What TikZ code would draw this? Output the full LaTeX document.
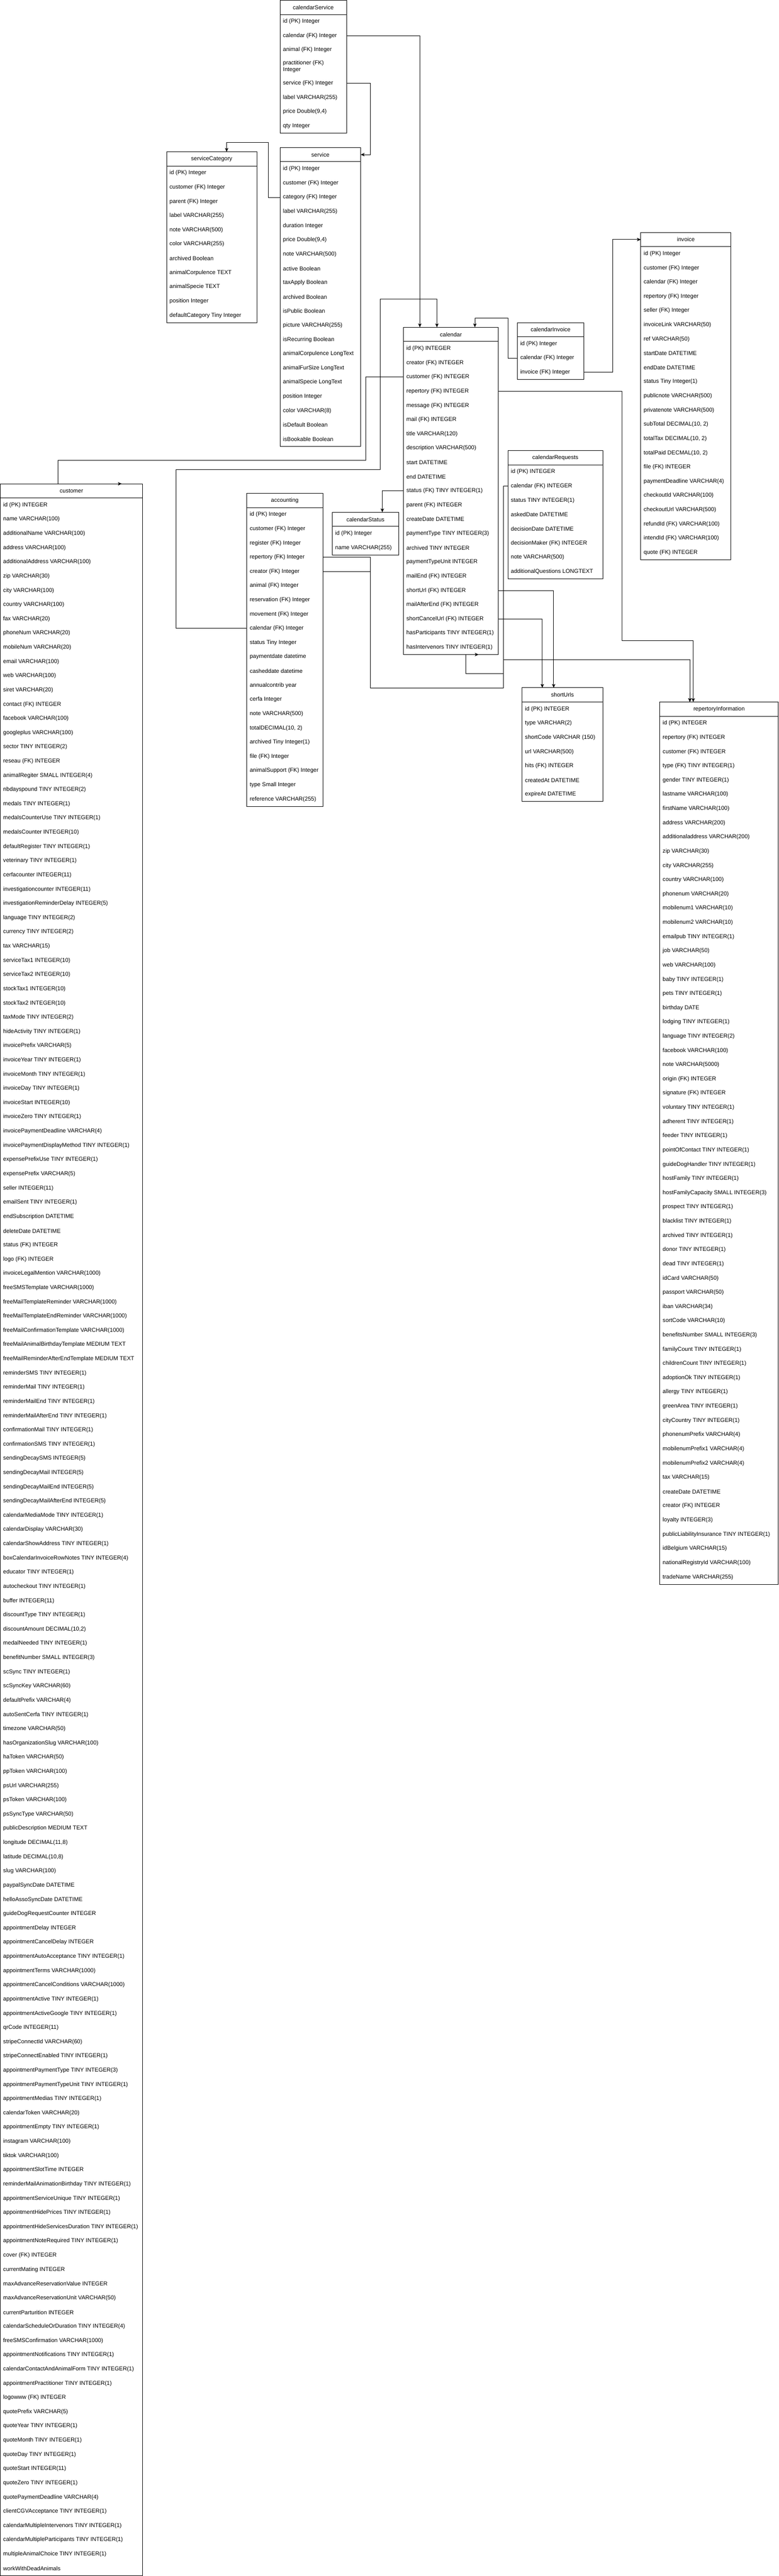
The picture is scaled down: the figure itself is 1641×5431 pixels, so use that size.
\documentclass[tikz,border=0pt]{standalone}
\usepackage{fontspec}
\setmainfont{Liberation Sans}
\usetikzlibrary{arrows.meta}

% Table frame: #1 name, #2 x, #3 y, #4 width, #5 height (px), #6 title
\newcommand{\erTable}[6]{%
  \node[erBox, minimum width=#4*0.75pt, minimum height=#5*0.75pt] (#1) at (#2,#3) {};
  \node[erHead, minimum width=#4*0.75pt] (#1-t) at (#2,#3) {#6};
  \draw[line width=0.75pt] (#1-t.south west) -- (#1-t.south east);
}
% Table rows: #1 name, #2 x, #3 top of first row, #4 first index, #5 rows
\newcommand{\erRows}[5]{%
  \foreach \txt [count=\i from #4] in {#5} {
    \node[erRow] (#1-\i) at ({#2+6},{#3+30*(\i-#4)+15}) {\txt};
  }
}

\tikzset{
  erBox/.style={draw, line width=0.75pt, anchor=north west, inner sep=0, outer sep=0},
  erHead/.style={anchor=north west, inner sep=0, outer sep=0, minimum height=22.5pt},
  erRow/.style={anchor=west, inner sep=0},
  fk/.style={line width=0.75pt, -{Stealth[length=6pt,width=5.25pt,inset=1.5pt]}},
}

\begin{document}
\begin{tikzpicture}[x=0.75pt, y=-0.75pt, font=\fontsize{9pt}{10.5pt}\selectfont]
\fill[white] (0,0) rectangle (1641,5431);

% calendarService
\erTable{csv}{590}{0.5}{140}{280}{calendarService}
\erRows{csv}{590}{30.5}{1}{id (PK) Integer, calendar (FK) Integer, animal (FK) Integer}
\node[erRow, align=left] (csv-4) at (596,140.5) {practitioner (FK)\\Integer};
\erRows{csv}{590}{160.5}{5}{service (FK) Integer, label VARCHAR(255), {price Double(9,4)}, qty Integer}

% serviceCategory
\erTable{scat}{351}{320}{190}{360}{serviceCategory}
\erRows{scat}{351}{350}{1}{id (PK) Integer, customer (FK) Integer, parent (FK) Integer,
  label VARCHAR(255), note VARCHAR(500), color VARCHAR(255), archived Boolean,
  animalCorpulence TEXT, animalSpecie TEXT, position Integer, defaultCategory Tiny Integer}

% service
\erTable{svc}{590}{311}{170}{630}{service}
\erRows{svc}{590}{341}{1}{id (PK) Integer, customer (FK) Integer, category (FK) Integer,
  label VARCHAR(255), duration Integer, {price Double(9,4)}, note VARCHAR(500),
  active Boolean, taxApply Boolean, archived Boolean, isPublic Boolean,
  picture VARCHAR(255), isRecurring Boolean, animalCorpulence LongText,
  animalFurSize LongText, animalSpecie LongText, position Integer,
  color VARCHAR(8), isDefault Boolean, isBookable Boolean}

% calendar
\erTable{cal}{850}{690}{200}{690}{calendar}
\erRows{cal}{850}{720}{1}{id (PK) INTEGER, creator (FK) INTEGER, customer (FK) INTEGER,
  repertory (FK) INTEGER, message (FK) INTEGER, mail (FK) INTEGER, title VARCHAR(120),
  description VARCHAR(500), start DATETIME, end DATETIME, status (FK) TINY INTEGER(1),
  parent (FK) INTEGER, createDate DATETIME, paymentType TINY INTEGER(3),
  archived TINY INTEGER, paymentTypeUnit INTEGER, mailEnd (FK) INTEGER,
  shortUrl (FK) INTEGER, mailAfterEnd (FK) INTEGER, shortCancelUrl (FK) INTEGER,
  hasParticipants TINY INTEGER(1), hasIntervenors TINY INTEGER(1)}

% calendarInvoice
\erTable{cinv}{1090}{680}{140}{120}{calendarInvoice}
\erRows{cinv}{1090}{710}{1}{id (PK) Integer, calendar (FK) Integer, invoice (FK) Integer}

% invoice
\erTable{inv}{1350}{490}{190}{690}{invoice}
\erRows{inv}{1350}{520}{1}{id (PK) Integer, customer (FK) Integer, calendar (FK) Integer,
  repertory (FK) Integer, seller (FK) Integer, invoiceLink VARCHAR(50), ref VARCHAR(50),
  startDate DATETIME, endDate DATETIME, status Tiny Integer(1), publicnote VARCHAR(500),
  privatenote VARCHAR(500), {subTotal DECIMAL(10, 2)}, {totalTax DECIMAL(10, 2)},
  {totalPaid DECMAL(10, 2)}, file (FK) INTEGER, paymentDeadline VARCHAR(4),
  checkoutId VARCHAR(100), checkoutUrl VARCHAR(500), refundId (FK) VARCHAR(100),
  intendId (FK) VARCHAR(100), quote (FK) INTEGER}

% calendarRequests
\erTable{creq}{1070}{950}{200}{270}{calendarRequests}
\erRows{creq}{1070}{980}{1}{id (PK) INTEGER, calendar (FK) INTEGER, status TINY INTEGER(1),
  askedDate DATETIME, decisionDate DATETIME, decisionMaker (FK) INTEGER,
  note VARCHAR(500), additionalQuestions LONGTEXT}

% calendarStatus
\erTable{cstat}{700}{1080}{140}{90}{calendarStatus}
\erRows{cstat}{700}{1110}{1}{id (PK) Integer, name VARCHAR(255)}

% accounting
\erTable{acc}{520}{1040}{160}{660}{accounting}
\erRows{acc}{520}{1070}{1}{id (PK) Integer, customer (FK) Integer, register (FK) Integer,
  repertory (FK) Integer, creator (FK) Integer, animal (FK) Integer,
  reservation (FK) Integer, movement (FK) Integer, calendar (FK) Integer,
  status Tiny Integer, paymentdate datetime, casheddate datetime, annualcontrib year,
  cerfa Integer, note VARCHAR(500), {totalDECIMAL(10, 2)}, archived Tiny Integer(1),
  file (FK) Integer, animalSupport (FK) Integer, type Small Integer, reference VARCHAR(255)}

% shortUrls
\erTable{surl}{1100}{1450}{170}{240}{shortUrls}
\erRows{surl}{1100}{1480}{1}{id (PK) INTEGER, type VARCHAR(2), shortCode VARCHAR (150),
  url VARCHAR(500), hits (FK) INTEGER, createdAt DATETIME, expireAt DATETIME}

% customer
\erTable{cus}{0.5}{1020}{300}{4410}{customer}
\erRows{cus}{0.5}{1050}{1}{id (PK) INTEGER, name VARCHAR(100), additionalName VARCHAR(100),
  address VARCHAR(100), additionalAddress VARCHAR(100), zip VARCHAR(30), city VARCHAR(100),
  country VARCHAR(100), fax VARCHAR(20), phoneNum VARCHAR(20), mobileNum VARCHAR(20),
  email VARCHAR(100), web VARCHAR(100), siret VARCHAR(20), contact (FK) INTEGER,
  facebook VARCHAR(100), googleplus VARCHAR(100), sector TINY INTEGER(2),
  reseau (FK) INTEGER, animalRegiter SMALL INTEGER(4), nbdayspound TINY INTEGER(2),
  medals TINY INTEGER(1), medalsCounterUse TINY INTEGER(1), medalsCounter INTEGER(10),
  defaultRegister TINY INTEGER(1), veterinary TINY INTEGER(1), cerfacounter INTEGER(11),
  investigationcounter INTEGER(11), investigationReminderDelay INTEGER(5),
  language TINY INTEGER(2), currency TINY INTEGER(2), tax VARCHAR(15),
  serviceTax1 INTEGER(10), serviceTax2 INTEGER(10), stockTax1 INTEGER(10),
  stockTax2 INTEGER(10), taxMode TINY INTEGER(2), hideActivity TINY INTEGER(1),
  invoicePrefix VARCHAR(5), invoiceYear TINY INTEGER(1), invoiceMonth TINY INTEGER(1),
  invoiceDay TINY INTEGER(1), invoiceStart INTEGER(10), invoiceZero TINY INTEGER(1),
  invoicePaymentDeadline VARCHAR(4), invoicePaymentDisplayMethod TINY INTEGER(1),
  expensePrefixUse TINY INTEGER(1), expensePrefix VARCHAR(5), seller INTEGER(11),
  emailSent TINY INTEGER(1), endSubscription DATETIME, deleteDate DATETIME,
  status (FK) INTEGER, logo (FK) INTEGER, invoiceLegalMention VARCHAR(1000),
  freeSMSTemplate VARCHAR(1000), freeMailTemplateReminder VARCHAR(1000),
  freeMailTemplateEndReminder VARCHAR(1000), freeMailConfirmationTemplate VARCHAR(1000),
  freeMailAnimalBirthdayTemplate MEDIUM TEXT, freeMailReminderAfterEndTemplate MEDIUM TEXT,
  reminderSMS TINY INTEGER(1), reminderMail TINY INTEGER(1), reminderMailEnd TINY INTEGER(1),
  reminderMailAfterEnd TINY INTEGER(1), confirmationMail TINY INTEGER(1),
  confirmationSMS TINY INTEGER(1), sendingDecaySMS INTEGER(5), sendingDecayMail INTEGER(5),
  sendingDecayMailEnd INTEGER(5), sendingDecayMailAfterEnd INTEGER(5),
  calendarMediaMode TINY INTEGER(1), calendarDisplay VARCHAR(30),
  calendarShowAddress TINY INTEGER(1), boxCalendarInvoiceRowNotes TINY INTEGER(4),
  educator TINY INTEGER(1), autocheckout TINY INTEGER(1), buffer INTEGER(11),
  discountType TINY INTEGER(1), {discountAmount DECIMAL(10,2)}, medalNeeded TINY INTEGER(1),
  benefitNumber SMALL INTEGER(3), scSync TINY INTEGER(1), scSyncKey VARCHAR(60),
  defaultPrefix VARCHAR(4), autoSentCerfa TINY INTEGER(1), timezone VARCHAR(50),
  hasOrganizationSlug VARCHAR(100), haToken VARCHAR(50), ppToken VARCHAR(100),
  psUrl VARCHAR(255), psToken VARCHAR(100), psSyncType VARCHAR(50),
  publicDescription MEDIUM TEXT, {longitude DECIMAL(11,8)}, {latitude DECIMAL(10,8)},
  slug VARCHAR(100), paypalSyncDate DATETIME, helloAssoSyncDate DATETIME,
  guideDogRequestCounter INTEGER, appointmentDelay INTEGER, appointmentCancelDelay INTEGER,
  appointmentAutoAcceptance TINY INTEGER(1), appointmentTerms VARCHAR(1000),
  appointmentCancelConditions VARCHAR(1000), appointmentActive TINY INTEGER(1),
  appointmentActiveGoogle TINY INTEGER(1), qrCode INTEGER(11), stripeConnectId VARCHAR(60),
  stripeConnectEnabled TINY INTEGER(1), appointmentPaymentType TINY INTEGER(3),
  appointmentPaymentTypeUnit TINY INTEGER(1), appointmentMedias TINY INTEGER(1),
  calendarToken VARCHAR(20), appointmentEmpty TINY INTEGER(1), instagram VARCHAR(100),
  tiktok VARCHAR(100), appointmentSlotTime INTEGER,
  reminderMailAnimationBirthday TINY INTEGER(1), appointmentServiceUnique TINY INTEGER(1),
  appointmentHidePrices TINY INTEGER(1), appointmentHideServicesDuration TINY INTEGER(1),
  appointmentNoteRequired TINY INTEGER(1), cover (FK) INTEGER, currentMating INTEGER,
  maxAdvanceReservationValue INTEGER, maxAdvanceReservationUnit VARCHAR(50),
  currentParturition INTEGER, calendarScheduleOrDuration TINY INTEGER(4),
  freeSMSConfirmation VARCHAR(1000), appointmentNotifications TINY INTEGER(1),
  calendarContactAndAnimalForm TINY INTEGER(1), appointmentPractitioner TINY INTEGER(1),
  logowww (FK) INTEGER, quotePrefix VARCHAR(5), quoteYear TINY INTEGER(1),
  quoteMonth TINY INTEGER(1), quoteDay TINY INTEGER(1), quoteStart INTEGER(11),
  quoteZero TINY INTEGER(1), quotePaymentDeadline VARCHAR(4),
  clientCGVAcceptance TINY INTEGER(1), calendarMultipleIntervenors TINY INTEGER(1),
  calendarMultipleParticipants TINY INTEGER(1), multipleAnimalChoice TINY INTEGER(1),
  workWithDeadAnimals}

% repertoryInformation
\erTable{rep}{1390}{1480}{250}{1860}{repertoryInformation}
\erRows{rep}{1390}{1510}{1}{id (PK) INTEGER, repertory (FK) INTEGER, customer (FK) INTEGER,
  type (FK) TINY INTEGER(1), gender TINY INTEGER(1), lastname VARCHAR(100),
  firstName VARCHAR(100), address VARCHAR(200), additionaladdress VARCHAR(200),
  zip VARCHAR(30), city VARCHAR(255), country VARCHAR(100), phonenum VARCHAR(20),
  mobilenum1 VARCHAR(10), mobilenum2 VARCHAR(10), emailpub TINY INTEGER(1),
  job VARCHAR(50), web VARCHAR(100), baby TINY INTEGER(1), pets TINY INTEGER(1),
  birthday DATE, lodging TINY INTEGER(1), language TINY INTEGER(2), facebook VARCHAR(100),
  note VARCHAR(5000), origin (FK) INTEGER, signature (FK) INTEGER,
  voluntary TINY INTEGER(1), adherent TINY INTEGER(1), feeder TINY INTEGER(1),
  pointOfContact TINY INTEGER(1), guideDogHandler TINY INTEGER(1),
  hostFamily TINY INTEGER(1), hostFamilyCapacity SMALL INTEGER(3),
  prospect TINY INTEGER(1), blacklist TINY INTEGER(1), archived TINY INTEGER(1),
  donor TINY INTEGER(1), dead TINY INTEGER(1), idCard VARCHAR(50), passport VARCHAR(50),
  iban VARCHAR(34), sortCode VARCHAR(10), benefitsNumber SMALL INTEGER(3),
  familyCount TINY INTEGER(1), childrenCount TINY INTEGER(1), adoptionOk TINY INTEGER(1),
  allergy TINY INTEGER(1), greenArea TINY INTEGER(1), cityCountry TINY INTEGER(1),
  phonenumPrefix VARCHAR(4), mobilenumPrefix1 VARCHAR(4), mobilenumPrefix2 VARCHAR(4),
  tax VARCHAR(15), createDate DATETIME, creator (FK) INTEGER, loyalty INTEGER(3),
  publicLiabilityInsurance TINY INTEGER(1), idBelgium VARCHAR(15),
  nationalRegistryId VARCHAR(100), tradeName VARCHAR(255)}

% Relations
\draw[fk] (csv-2 -| csv.east) -| (884.5,0 |- cal.north);
\draw[fk] (csv-5 -| csv.east) -| (780.5,0 |- svc-t) -- (svc-t.east);
\draw[fk] (svc-3 -| svc.west) -| (565.5,300.5) -| (477.5,0 |- scat.north);
\draw[fk] (cal-3 -| cal.west) -| (770.5,970.5) -| (122.5,0 |- cus.north) -- (256.5,0 |- cus.north);
\draw[fk] (acc-9 -| acc.west) -| (370.5,990.5) -| (800.5,630.5) -| (920.5,0 |- cal.north);
\draw[fk] (cinv-2 -| cinv.west) -| (1070.5,670.5) -| (1000.5,0 |- cal.north);
\draw[fk] (cinv-3 -| cinv.east) -| (1290.5,0 |- inv-t) -- (inv-t.west);
\draw[fk] (cal-11 -| cal.west) -| (805.5,0 |- cstat.north);
\draw[fk] (cal-4 -| cal.east) -| (1310.5,1350.5) -| (1460.5,0 |- rep.north);
\draw[fk] (acc-4 -| acc.east) -| (780.5,1450.5) -| (1060.5,1390.5) -| (1453.5,0 |- rep.north);
\draw[fk] (acc-5 -| acc.east) -| (780.5,1450.5) -| (1060.5,1390.5) -| (1453.5,0 |- rep.north);
\draw[fk] (creq-2 -| creq.west) -| (1060.5,1420.5) -| (981.5,0 |- cal.south) -- (1008.5,0 |- cal.south);
\draw[fk] (cal-18 -| cal.east) -| (1166.5,0 |- surl.north);
\draw[fk] (cal-20 -| cal.east) -| (1142.5,0 |- surl.north);

\pgfresetboundingbox
\path[use as bounding box] (0,0) rectangle (1641,5431);
\end{tikzpicture}
\end{document}
